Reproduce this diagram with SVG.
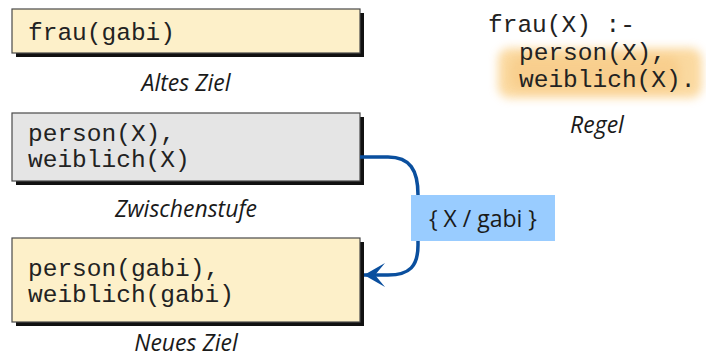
<svg xmlns="http://www.w3.org/2000/svg" width="706" height="358" viewBox="0 0 706 358">
<defs>
<style>
.box{stroke:#4a4a4a;stroke-width:1.2}
.shadow{fill:#111}
.mono{font-family:"Liberation Mono","Courier New",monospace;font-size:24.5px;fill:#222}
.cap{font-family:"Open Sans","Noto Sans",sans-serif;font-style:italic;font-size:23px;fill:#1a1a1a;text-anchor:middle}
.lbl{font-family:"Open Sans","Noto Sans",sans-serif;font-size:23px;fill:#1a1a1a;text-anchor:middle}
.conn{fill:none;stroke:#0a4f9e;stroke-width:3.5}
</style>
<filter id="blur" x="-20%" y="-50%" width="140%" height="200%"><feGaussianBlur stdDeviation="5"/></filter>
<marker id="arr" markerUnits="userSpaceOnUse" markerWidth="30" markerHeight="30" refX="23" refY="15" orient="auto">
<path d="M23,15 L2,3 L12,15 L2,27 Z" fill="#0a4f9e"/>
</marker>
</defs>

<g id="altes-ziel">
<rect class="shadow" x="16" y="13" width="348" height="44"/>
<rect class="box" x="12" y="9" width="348" height="44" fill="#fdf0c9"/>
<text class="mono" x="28" y="40">frau(gabi)</text>
<text class="cap" x="186" y="91">Altes Ziel</text>
</g>

<g id="zwischenstufe">
<rect class="shadow" x="16" y="117" width="348" height="68"/>
<rect class="box" x="12" y="113" width="348" height="68" fill="#e5e5e5"/>
<text class="mono" x="28" y="141">person(X),</text>
<text class="mono" x="28" y="167">weiblich(X)</text>
<text class="cap" x="186" y="217">Zwischenstufe</text>
</g>

<g id="neues-ziel">
<rect class="shadow" x="16" y="242" width="348" height="84"/>
<rect class="box" x="12" y="238" width="348" height="84" fill="#fdf0c9"/>
<text class="mono" x="28" y="276">person(gabi),</text>
<text class="mono" x="28" y="302">weiblich(gabi)</text>
<text class="cap" x="186" y="351">Neues Ziel</text>
</g>

<g id="regel">
<rect x="498" y="48" width="204" height="50" rx="12" fill="#f9c978" opacity="0.7" filter="url(#blur)"/>
<rect x="510" y="56" width="170" height="34" rx="12" fill="#f5b865" opacity="0.3" filter="url(#blur)"/>
<text class="mono" x="488" y="32">frau(X) :-</text>
<text class="mono" x="519" y="60">person(X),</text>
<text class="mono" x="519" y="87">weiblich(X).</text>
<text class="cap" x="597" y="133">Regel</text>
</g>

<g id="connectors">
<path class="conn" d="M360,157 H388 C410,157 418,170 418,195 V245 C418,266 410,275 388,275 H364" marker-end="url(#arr)"/>
</g>

<g id="substitution">
<rect x="411" y="195" width="144" height="46" fill="#99ccff"/>
<text class="lbl" x="483" y="227">{ X / gabi }</text>
</g>
</svg>
